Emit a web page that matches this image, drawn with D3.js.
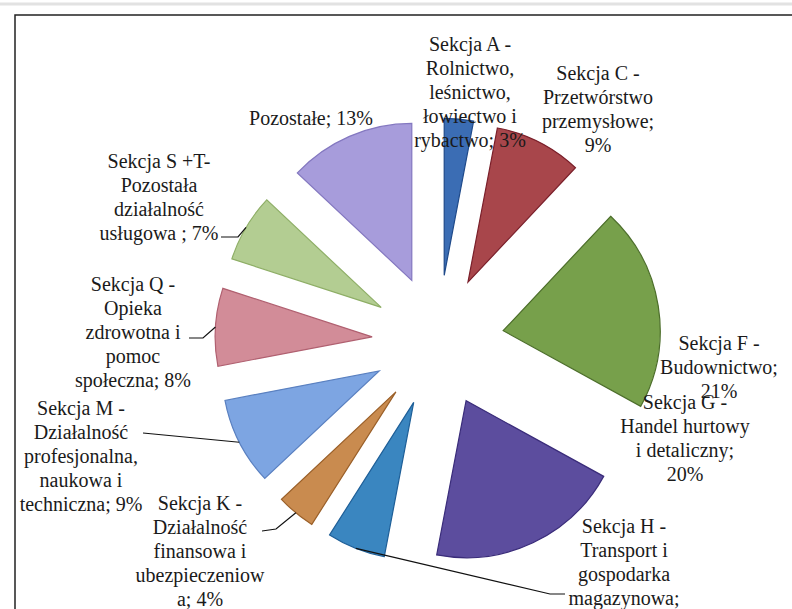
<!DOCTYPE html>
<html>
<head>
<meta charset="utf-8">
<script src="https://cdn.jsdelivr.net/npm/d3@7"></script>
<style>
  body { margin: 0; background: #fff; }
  svg { display: block; }
</style>
</head>
<body>
<div id="chart"></div>
<script>
//  Data  //
var sections = ["A", "C", "F", "G", "H", "K", "M", "Q", "S+T", "Pozostałe"];
var shares = [3, 9, 21, 20, 6, 4, 9, 8, 7, 13];
var labelLines = [
    ["Sekcja A -", "Rolnictwo,", "leśnictwo,", "łowiectwo i", "rybactwo; 3%"],
    ["Sekcja C -", "Przetwórstwo", "przemysłowe;", "9%"],
    ["Sekcja F -", "Budownictwo;", "21%"],
    ["Sekcja G -", "Handel hurtowy", "i detaliczny;", "20%"],
    ["Sekcja H -", "Transport i", "gospodarka", "magazynowa;", "6%"],
    ["Sekcja K -", "Działalność", "finansowa i", "ubezpieczeniow", "a; 4%"],
    ["Sekcja M -", "Działalność", "profesjonalna,", "naukowa i", "techniczna; 9%"],
    ["Sekcja Q -", "Opieka", "zdrowotna i", "pomoc", "społeczna; 8%"],
    ["Sekcja S +T-", "Pozostała", "działalność", "usługowa ; 7%"],
    ["Pozostałe; 13%"]
];
var fills = ["#3b6db4", "#a8464b", "#77a04b", "#5c4d9e", "#3a86c0", "#c98b4f", "#7da5e2", "#d28c98", "#b3cd92", "#a79cdb"];
var strokes = ["#1f4a8a", "#7a1f2a", "#4c6e2a", "#3a2c7a", "#1e5f98", "#9a5f28", "#5a80c0", "#b06070", "#8eae66", "#8478c0"];

//  Layout (label anchors: centre x, first line y; leader bends) //
var labelPos = [
    {x: 470, y: 44},
    {x: 598, y: 73},
    {x: 719, y: 343},
    {x: 685, y: 402},
    {x: 624, y: 526, leader: [[550, 594], [565, 594]]},
    {x: 200, y: 503, leader: [[276, 529], [262, 531]]},
    {x: 81, y: 408, leader: [[143, 433]]},
    {x: 133, y: 284, leader: [[203, 338], [189, 338]]},
    {x: 159, y: 161, leader: [[238, 237], [221, 237]]},
    {x: 311, y: 118}
];

var width = 792, height = 609;
var cx = 438, cy = 341;
var radius = 157, explode = 66;
var lineH = 24;

var svg = d3.select("#chart").append("svg").attr("width", width).attr("height", height);

//  Frame  //
svg.append("line").attr("x1", 0).attr("x2", width).attr("y1", 4).attr("y2", 4)
    .attr("stroke", "#e2e2e2").attr("stroke-width", 3);
svg.append("path").attr("d", "M15," + height + "V15H" + width)
    .attr("fill", "none").attr("stroke", "#222").attr("stroke-width", 1.5);

//  Pie  //
var pie = d3.pie().sort(null).value(function(d){ return d; });
var arcs = pie(shares);
var arc = d3.arc().innerRadius(0).outerRadius(radius);

function offset(d, r){
    var a = (d.startAngle + d.endAngle) / 2;
    return [Math.sin(a) * r, -Math.cos(a) * r];
}

var g = svg.append("g").attr("transform", "translate(" + cx + "," + cy + ")");
g.selectAll(".slice").data(arcs).enter().append("path")
    .attr("class", "slice")
    .attr("d", arc)
    .attr("transform", function(d){ var o = offset(d, explode); return "translate(" + o[0] + "," + o[1] + ")"; })
    .attr("fill", function(d, i){ return fills[i]; })
    .attr("stroke", function(d, i){ return strokes[i]; })
    .attr("stroke-width", 1.2);

//  Leader lines  //
arcs.forEach(function(d, i){
    var lp = labelPos[i];
    if (!lp.leader) return;
    var p = offset(d, explode + radius);
    var pts = [[cx + p[0], cy + p[1]]].concat(lp.leader);
    svg.append("path").attr("d", d3.line()(pts))
        .attr("fill", "none").attr("stroke", "#111").attr("stroke-width", 1.2);
});

//  Labels (one text per line, serif set on each)  //
labelLines.forEach(function(lines, i){
    var lp = labelPos[i];
    lines.forEach(function(s, j){
        svg.append("text")
            .style("font-family", "'Liberation Serif'")
            .style("font-size", "20px")
            .attr("fill", "#1a1a1a")
            .attr("text-anchor", "middle")
            .attr("x", lp.x).attr("y", lp.y + j * lineH + 7)
            .text(s);
    });
});
</script>
</body>
</html>
